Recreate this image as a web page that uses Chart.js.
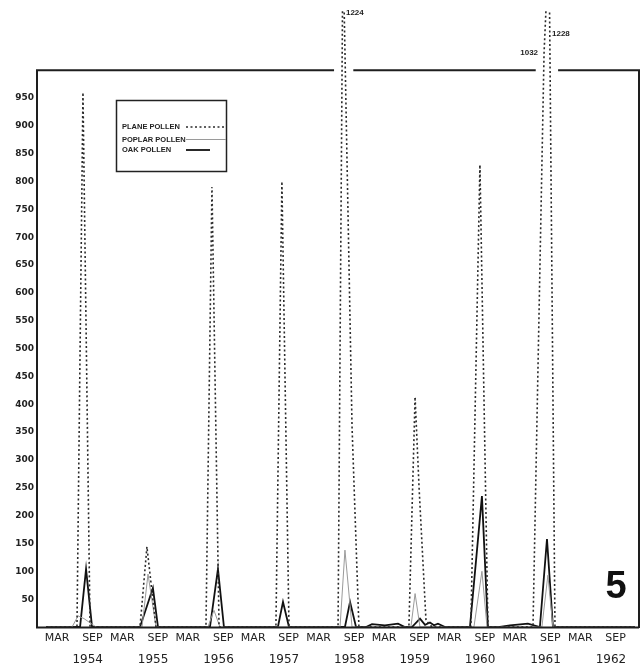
<!DOCTYPE html>
<html>
<head>
<meta charset="utf-8">
<script src="https://cdn.jsdelivr.net/npm/chart.js@4.4.1/dist/chart.umd.min.js"></script>
<style>
html,body{margin:0;padding:0;background:#fff;}
#wrap{width:642px;height:667px;position:relative;}
</style>
</head>
<body>
<div id="wrap"><canvas id="c"></canvas></div>
<script>
// ---- data ----
const years = [1954, 1955, 1956, 1957, 1958, 1959, 1960, 1961, 1962];
const xTickDates = years.flatMap(y => [y + '-03-01', y + '-09-16']);
const xTickLabels = years.flatMap(() => ['MAR', 'SEP']);
const yearLabelDates = years.map(y => y + '-08-20');
const yTicks = [50, 100, 150, 200, 250, 300, 350, 400, 450, 500, 550, 600, 650, 700, 750, 800, 850, 900, 950];
const seriesNames = ['PLANE POLLEN', 'POPLAR POLLEN', 'OAK POLLEN'];

const planeDates = ['1954-01-01','1954-06-21','1954-07-24','1954-09-03','1955-06-08','1955-07-16','1955-09-06',
  '1956-06-11','1956-07-14','1956-08-23','1957-07-06','1957-08-09','1957-09-18','1958-06-18','1958-07-15',
  '1958-09-05','1958-10-13','1959-07-18','1959-08-22','1959-09-14','1959-10-22','1959-11-25','1960-06-29',
  '1960-08-19','1960-10-03','1961-06-11','1961-08-12','1961-09-09','1961-10-12','1963-01-01'];
const planeValues = [0,0,960,0,0,144,0,0,790,0,0,800,0,0,1224,360,0,0,413,250,12,0,0,830,0,0,1032,1228,0,0];

const poplarDates = ['1954-01-01','1954-05-24','1954-06-27','1954-07-30','1954-10-06','1955-06-19','1955-07-22',
  '1955-09-06','1956-06-22','1956-07-25','1956-08-28','1958-06-29','1958-07-26','1958-09-05','1959-07-29',
  '1959-08-22','1959-09-19','1960-07-16','1960-08-30','1960-09-28','1961-07-30','1961-09-03','1961-10-01','1963-01-01'];
const poplarValues = [0,0,20,15,0,0,95,0,0,30,0,0,138,0,0,60,0,0,100,0,0,93,0,0];

const oakDates = ['1954-01-01','1954-07-08','1954-08-11','1954-09-14','1955-06-08','1955-08-19','1955-09-17',
  '1956-07-03','1956-08-17','1956-09-20','1957-07-17','1957-08-15','1957-09-18','1958-07-26','1958-08-24',
  '1958-09-27','1958-11-22','1958-12-25','1959-03-06','1959-05-18','1959-06-26','1959-08-05','1959-09-19',
  '1959-10-17','1959-11-14','1959-12-06','1959-12-28','1960-02-07','1960-06-24','1960-08-30','1960-10-03',
  '1960-12-09','1961-02-04','1961-05-13','1961-07-19','1961-08-28','1961-10-01','1963-01-01'];
const oakValues = [0,0,104,0,0,70,0,0,104,0,0,45,0,0,45,0,0,5,3,6,0,0,15,4,8,3,6,0,0,235,0,0,3,6,0,158,0,0];

// months since 1954-01-01
function toM(s) {
  const [Y, M, D] = s.split('-').map(Number);
  return (Y - 1954) * 12 + (M - 1) + (D - 1) / 30;
}
const pts = (dates, vals) => dates.map((d, i) => ({ x: toM(d), y: vals[i] }));

const BREAK = 1000;

const bgPlugin = {
  id: 'bg',
  beforeDraw(chart) {
    const ctx = chart.ctx;
    ctx.save();
    ctx.fillStyle = '#ffffff';
    ctx.fillRect(0, 0, chart.width, chart.height);
    ctx.restore();
  }
};

const framePlugin = {
  id: 'frame',
  afterDatasetsDraw(chart) {
    const { ctx, chartArea: a, scales } = chart;
    const x = scales.x, y = scales.y;
    const topY = y.getPixelForValue(BREAK);
    const botY = y.getPixelForValue(0);
    const gaps = [];
    chart.data.datasets.forEach(ds => {
      for (let i = 1; i < ds.data.length; i++) {
        const p = ds.data[i - 1], q = ds.data[i];
        if ((p.y - BREAK) * (q.y - BREAK) < 0) {
          const t = (BREAK - p.y) / (q.y - p.y);
          const cx = x.getPixelForValue(p.x + (q.x - p.x) * t);
          gaps.push([cx - 8, cx + 8]);
        }
      }
    });
    gaps.sort((g1, g2) => g1[0] - g2[0]);
    const merged = [];
    gaps.forEach(g => {
      if (merged.length && g[0] <= merged[merged.length - 1][1]) {
        merged[merged.length - 1][1] = Math.max(merged[merged.length - 1][1], g[1]);
      } else merged.push(g.slice());
    });
    ctx.save();
    ctx.strokeStyle = '#1e1e1e';
    ctx.lineWidth = 2;
    ctx.lineCap = 'butt';
    ctx.beginPath();
    ctx.moveTo(a.left, topY); ctx.lineTo(a.left, botY + 1);
    ctx.moveTo(a.left - 1, botY + 0.5); ctx.lineTo(a.right - 1, botY + 0.5);
    ctx.moveTo(a.right - 1, topY); ctx.lineTo(a.right - 1, botY + 1);
    let start = a.left - 1;
    merged.forEach(g => {
      ctx.moveTo(start, topY); ctx.lineTo(g[0], topY);
      start = g[1];
    });
    ctx.moveTo(start, topY); ctx.lineTo(a.right, topY);
    ctx.stroke();

    ctx.fillStyle = '#1e1e1e';
    ctx.font = 'bold 8px "Liberation Sans", Arial, sans-serif';
    ctx.textBaseline = 'middle';
    chart.data.datasets.forEach(ds => {
      let prevY = null;
      for (let i = 0; i < ds.data.length; i++) {
        const p = ds.data[i];
        if (p.y > BREAK) {
          const px = x.getPixelForValue(p.x);
          let py = Math.max(y.getPixelForValue(p.y), a.top + 3);
          if (prevY !== null) py = prevY - 19;
          const next = ds.data[i + 1];
          if (next && next.y > BREAK) {
            ctx.textAlign = 'right';
            ctx.fillText(String(p.y), px - 6, py);
          } else {
            ctx.textAlign = 'left';
            ctx.fillText(String(p.y), px + 3, py);
          }
          prevY = py;
        } else prevY = null;
      }
    });

    ctx.font = 'bold 38px "Liberation Sans", Arial, sans-serif';
    ctx.textAlign = 'center';
    ctx.textBaseline = 'middle';
    ctx.fillStyle = '#111';
    ctx.fillText('5', 616, 588);
    ctx.restore();
  }
};

const legendPlugin = {
  id: 'boxLegend',
  afterDraw(chart) {
    const ctx = chart.ctx;
    const bx = 116.5, by = 100.5, bw = 110, bh = 71;
    const rows = [127, 139.5, 150];
    const ends = [226, 226, 210];
    ctx.save();
    ctx.fillStyle = '#fff';
    ctx.fillRect(bx, by, bw, bh);
    ctx.strokeStyle = '#222';
    ctx.lineWidth = 1.5;
    ctx.strokeRect(bx, by, bw, bh);
    ctx.font = 'bold 7.5px "Liberation Sans", Arial, sans-serif';
    ctx.textBaseline = 'middle';
    ctx.textAlign = 'left';
    chart.data.datasets.forEach((ds, i) => {
      ctx.fillStyle = '#222';
      ctx.fillText(ds.label, 122, rows[i]);
      ctx.beginPath();
      ctx.strokeStyle = ds.borderColor;
      ctx.lineWidth = ds.borderWidth;
      ctx.setLineDash(ds.borderDash || []);
      ctx.moveTo(186, rows[i]);
      ctx.lineTo(ends[i], rows[i]);
      ctx.stroke();
      ctx.setLineDash([]);
    });
    ctx.restore();
  }
};

new Chart(document.getElementById('c'), {
  type: 'line',
  data: {
    datasets: [
      { label: seriesNames[0], data: pts(planeDates, planeValues), borderColor: '#2b2b2b', borderWidth: 1.6,
        borderDash: [2, 2.5], pointRadius: 0, tension: 0, fill: false },
      { label: seriesNames[1], data: pts(poplarDates, poplarValues), borderColor: '#9a9a9a', borderWidth: 1,
        pointRadius: 0, tension: 0, fill: false },
      { label: seriesNames[2], data: pts(oakDates, oakValues), borderColor: '#111111', borderWidth: 1.8,
        pointRadius: 0, tension: 0, fill: false }
    ]
  },
  options: {
    responsive: true,
    maintainAspectRatio: false,
    animation: false,
    devicePixelRatio: 1,
    layout: { padding: { top: 10, right: 2, left: 0, bottom: 0 } },
    plugins: { legend: { display: false }, tooltip: { enabled: false } },
    scales: {
      x: {
        type: 'linear', position: 'bottom',
        min: toM('1953-11-11'), max: toM('1963-01-30'),
        grid: { display: false, drawTicks: false }, border: { display: false },
        afterBuildTicks: s => { s.ticks = xTickDates.map(d => ({ value: toM(d) })); },
        afterFit: s => { s.height = 22; },
        ticks: { autoSkip: false, maxRotation: 0, padding: 5, color: '#222',
          font: { family: '"DejaVu Sans", sans-serif', size: 11 },
          callback: (v, i) => xTickLabels[i] }
      },
      x2: {
        type: 'linear', position: 'bottom',
        min: toM('1953-11-11'), max: toM('1963-01-30'),
        grid: { display: false, drawTicks: false }, border: { display: false },
        afterBuildTicks: s => { s.ticks = yearLabelDates.map(d => ({ value: toM(d) })); },
        afterFit: s => { s.height = 18; },
        ticks: { autoSkip: false, maxRotation: 0, padding: 4, color: '#222',
          font: { family: '"DejaVu Sans", sans-serif', size: 12 },
          callback: (v, i) => String(years[i]) }
      },
      y: {
        type: 'linear', min: 0, max: 1108,
        grid: { display: false, drawTicks: false }, border: { display: false },
        afterBuildTicks: s => { s.ticks = yTicks.map(v => ({ value: v })); },
        afterFit: s => { s.width = 37; },
        ticks: { padding: 3, color: '#222', autoSkip: false,
          font: { family: '"DejaVu Sans", sans-serif', size: 9, weight: 'bold' },
          callback: v => String(v) }
      }
    }
  },
  plugins: [bgPlugin, framePlugin, legendPlugin]
});
</script>
</body>
</html>
